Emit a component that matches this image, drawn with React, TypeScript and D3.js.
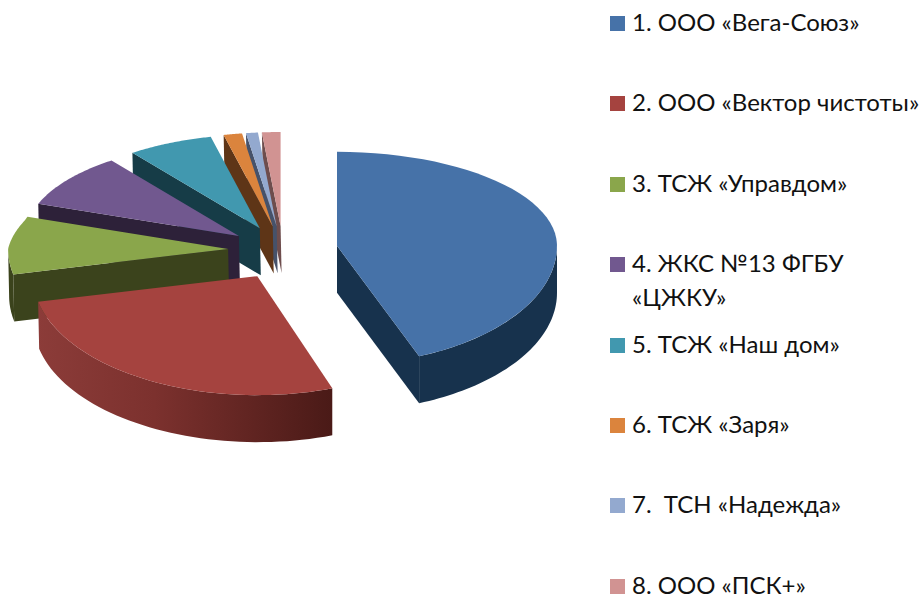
import React from "react";
import * as d3 from "d3";

const labels = ["1. ООО «Вега-Союз»", "2. ООО «Вектор чистоты»", "3. ТСЖ «Управдом»", "4. ЖКС №13 ФГБУ", "5. ТСЖ «Наш дом»", "6. ТСЖ «Заря»", "7.  ТСН «Надежда»", "8. ООО «ПСК+»"];
const values = [44, 27.7, 9, 9.3, 6.5, 1.4, 0.9, 1.4];
const topColors = ["#4672a8", "#a5433f", "#8aa64b", "#71588f", "#4198af", "#db843d", "#93a9cf", "#d19392"];
const wallColors = ["#17324d", "#4a1a17", "#3b431c", "#2d2139", "#163c47", "#5e3517", "#46526a", "#6e4d4d"];
const startNudgeDeg = [0, 2.4, 0, 0, 0, 0, 0, 0];
const rimScale = [1, 1.02, 1, 1, 1, 1, 1, 1];
const legendY = [16, 96, 177, 257, 338, 418, 498, 579];
const drawOrder = [7, 6, 5, 4, 3, 2, 1, 0];

const W = 920, H = 594;
const cx = 283, cy = 250.5, rx = 220, ryFront = 119, ryBack = 94;
const exX = 55, exYFront = 29, exYBack = 24.5, depth = 47;

const pie = d3.pie<number>().sort(null).startAngle(0).endAngle(2 * Math.PI);
const arcs = pie(values);

function seq(a: number, b: number, n = 48) {
  return d3.range(n + 1).map((i) => a + ((b - a) * i) / n);
}

const line = d3.line<[number, number]>();

export default function App() {
  const slices = arcs.map((a, i) => {
    const mid = (a.startAngle + a.endAngle) / 2;
    const ox = cx + exX * Math.sin(mid);
    const oy = cy - (Math.cos(mid) > 0 ? exYBack : exYFront) * Math.cos(mid);
    const pt = (t: number): [number, number] => {
      const c = Math.cos(t), sn = Math.sin(t);
      const narrow = c > 0 && sn < 0 ? 1 - 0.03 * Math.min(1, c / 0.3) : 1;
      return [ox + rx * rimScale[i] * narrow * sn, oy - (c > 0 ? ryBack : ryFront) * c];
    };
    return { a, ox, oy, pt };
  });

  const down = (p: [number, number]): [number, number] => [p[0] + (p[0] < 300 ? 1 : 0), p[1] + depth];

  return (
    <svg width={W} height={H} style={{ position: "absolute", left: 0, top: 0 }}>
      <defs>
        <linearGradient id="redRim" gradientUnits="userSpaceOnUse" x1={36} x2={332} y1={0} y2={0}>
          <stop offset="0" stopColor="#8c3c39" />
          <stop offset="0.4" stopColor="#7c312e" />
          <stop offset="1" stopColor="#4a1a17" />
        </linearGradient>
      </defs>
      {drawOrder.map((i) => {
        const { a, ox, oy, pt } = slices[i];
        const s = a.startAngle + (startNudgeDeg[i] * Math.PI) / 180, e = a.endAngle;
        const apex: [number, number] = [ox, oy];
        const rimPts = seq(s, e).map(pt);
        const top = line([apex, ...rimPts]) + "Z";
        const parts: React.ReactNode[] = [];
        const wall = wallColors[i];
        if (Math.cos(s - Math.PI / 2) < 0) {
          const c = pt(s);
          parts.push(<path key="ws" d={line([apex, c, down(c), down(apex)]) + "Z"} fill={wall} />);
        }
        if (Math.cos(e + Math.PI / 2) < 0) {
          const c = pt(e);
          parts.push(<path key="we" d={line([apex, c, down(c), down(apex)]) + "Z"} fill={wall} />);
        }
        const r0 = Math.max(s, Math.PI / 2), r1 = Math.min(e, (3 * Math.PI) / 2);
        if (r1 > r0) {
          const up = seq(r0, r1).map(pt);
          const lo = up.map(down).reverse();
          parts.push(<path key="rim" d={line([...up, ...lo]) + "Z"} fill={i === 1 ? "url(#redRim)" : wall} />);
        }
        parts.push(<path key="top" d={top} fill={topColors[i]} />);
        return <g key={i}>{parts}</g>;
      })}
      {labels.map((t, i) => {
        const y = legendY[i];
        return (
          <g key={t}>
            <rect x={610} y={y} width={15} height={15} fill={topColors[i]} />
            <text x={632} y={y + 15} fontFamily="Lato, 'Open Sans'" fontSize={24} fill="#111" style={{ whiteSpace: "pre" }}>{t}</text>
          </g>
        );
      })}
      <text x={632} y={306} fontFamily="Lato, 'Open Sans'" fontSize={24} fill="#111">«ЦЖКУ»</text>
    </svg>
  );
}
